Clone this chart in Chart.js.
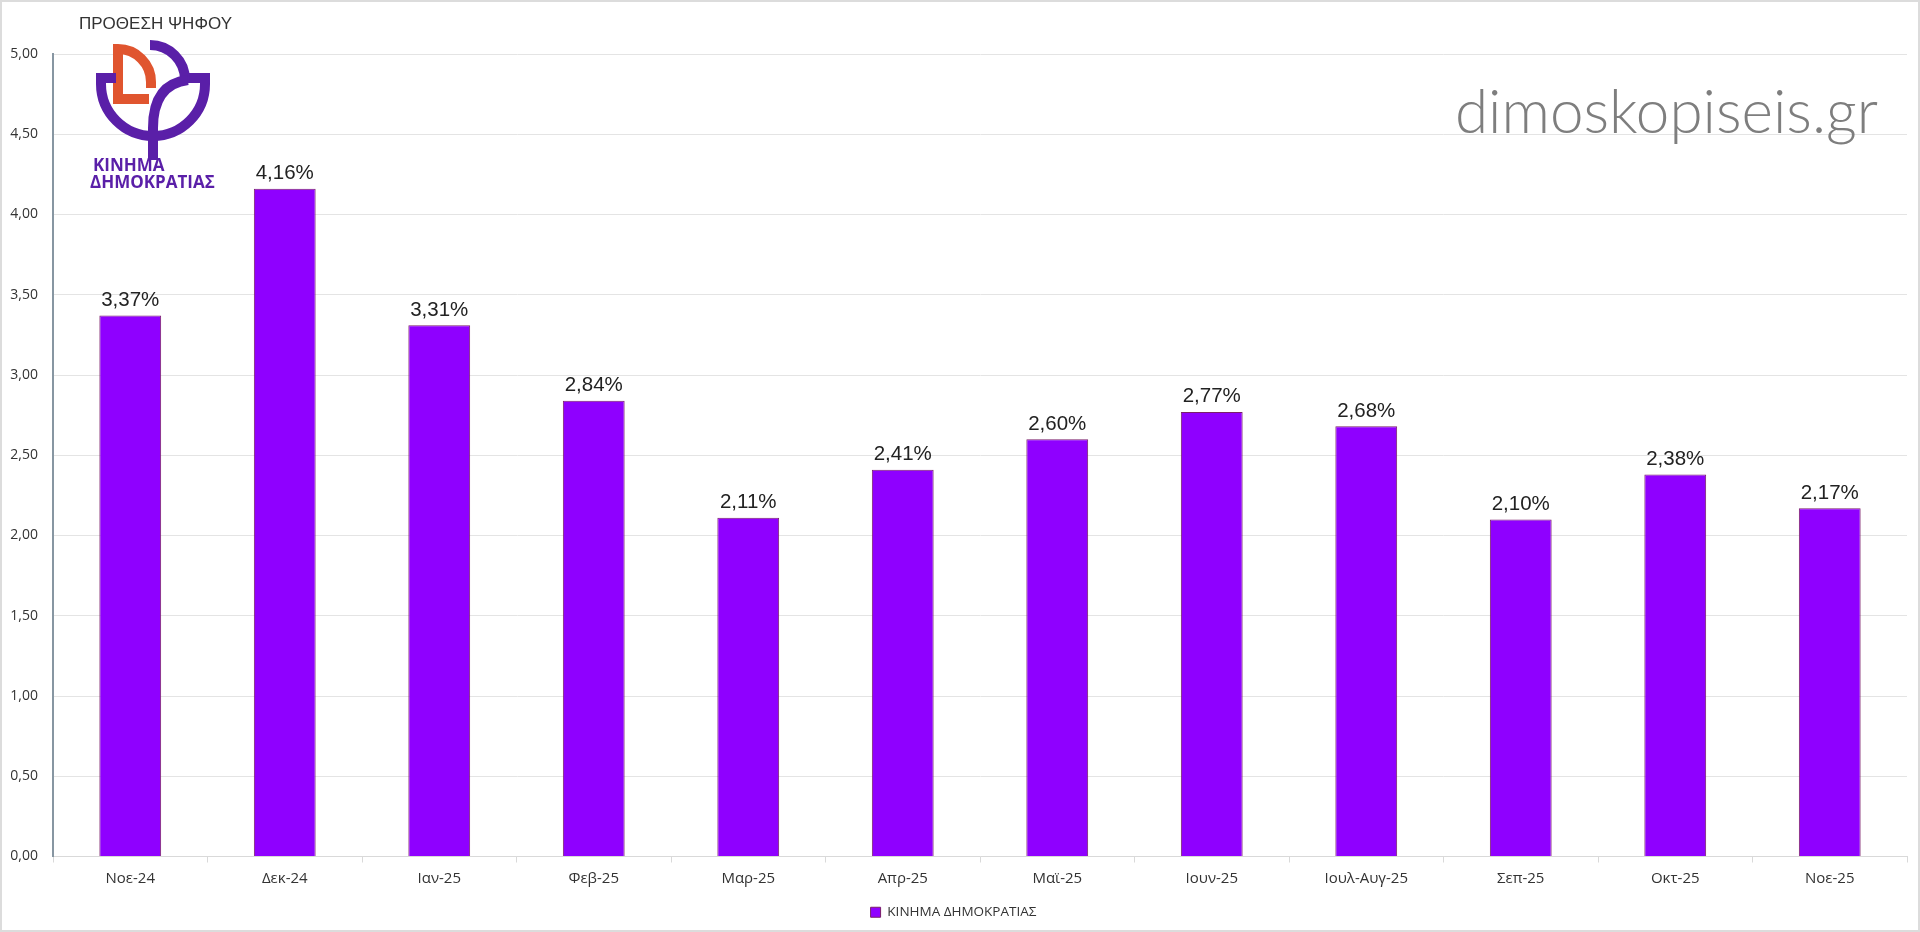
<!DOCTYPE html>
<html lang="el">

<head>
    <meta charset="UTF-8">
    <title>Πρόθεση ψήφου - Κίνημα Δημοκρατίας</title>
    <script src="https://cdn.jsdelivr.net/npm/chart.js"></script>
    <style>
        html, body {
            margin: 0;
            padding: 0;
            background: #ffffff;
        }

        .chart-box {
            position: relative;
            width: 1920px;
            height: 932px;
        }
    </style>
</head>

<body>
    <div class="chart-box">
        <canvas id="voteChart"></canvas>
    </div>

    <script>
        // data
        const months = ['Νοε-24', 'Δεκ-24', 'Ιαν-25', 'Φεβ-25', 'Μαρ-25', 'Απρ-25', 'Μαϊ-25', 'Ιουν-25', 'Ιουλ-Αυγ-25', 'Σεπ-25', 'Οκτ-25', 'Νοε-25'];
        const voteShare = [3.37, 4.16, 3.31, 2.84, 2.11, 2.41, 2.60, 2.77, 2.68, 2.10, 2.38, 2.17];
        const seriesName = 'ΚΙΝΗΜΑ ΔΗΜΟΚΡΑΤΙΑΣ';
        const yTicks = [0, 0.5, 1, 1.5, 2, 2.5, 3, 3.5, 4, 4.5, 5];

        const fmt = v => v.toFixed(2).replace('.', ',');

        // value labels above each bar
        const barLabels = {
            id: 'barLabels',
            afterDatasetsDraw(chart) {
                const ctx = chart.ctx;
                const meta = chart.getDatasetMeta(0);
                ctx.save();
                ctx.font = '20.5px "Liberation Sans", Arial, sans-serif';
                ctx.fillStyle = '#222';
                ctx.textAlign = 'center';
                ctx.textBaseline = 'bottom';
                meta.data.forEach((bar, i) => {
                    ctx.fillText(fmt(voteShare[i]) + '%', bar.x, bar.y - 5);
                });
                ctx.restore();
            }
        };

        // title, party logo, watermark and frame
        const decorations = {
            id: 'decorations',
            afterDraw(chart) {
                const ctx = chart.ctx;
                ctx.save();

                // frame
                ctx.strokeStyle = '#dcdcdc';
                ctx.lineWidth = 2;
                ctx.strokeRect(1, 1, 1918, 930);

                // title
                ctx.fillStyle = '#333';
                ctx.font = '17px "Liberation Sans", Arial, sans-serif';
                ctx.textAlign = 'left';
                ctx.textBaseline = 'middle';
                ctx.fillText('ΠΡΟΘΕΣΗ ΨΗΦΟΥ', 79, 24);

                // logo - orange part
                ctx.lineWidth = 10;
                ctx.lineCap = 'butt';
                ctx.lineJoin = 'miter';
                ctx.strokeStyle = '#e0552f';
                ctx.beginPath();
                ctx.moveTo(151, 88);
                ctx.lineTo(151, 82);
                ctx.arc(118, 82, 33, 0, -Math.PI / 2, true);
                ctx.lineTo(118, 99);
                ctx.lineTo(149, 99);
                ctx.stroke();

                // logo - purple part
                ctx.strokeStyle = '#5a1fa8';
                ctx.beginPath();
                ctx.moveTo(116, 78);
                ctx.lineTo(101, 78);
                ctx.lineTo(101, 84);
                ctx.arc(153, 84, 52, Math.PI, 0, true);
                ctx.lineTo(205, 78);
                ctx.lineTo(184, 78);
                ctx.stroke();

                ctx.beginPath();
                ctx.arc(150, 80, 35, -Math.PI / 2, 0);
                ctx.stroke();

                ctx.beginPath();
                ctx.moveTo(153, 160);
                ctx.lineTo(153, 128);
                ctx.quadraticCurveTo(153, 84, 188, 80);
                ctx.stroke();

                ctx.fillStyle = '#5a1fa8';
                ctx.font = 'bold 17px "Open Sans", "DejaVu Sans", sans-serif';
                ctx.fillText('ΚΙΝΗΜΑ', 93, 166);
                ctx.fillText('ΔΗΜΟΚΡΑΤΙΑΣ', 90, 183);

                // watermark
                const wm = 'dimoskopiseis.gr';
                ctx.fillStyle = '#7e7e7e';
                ctx.font = '300 54px Lato, "Open Sans", sans-serif';
                const w = ctx.measureText(wm).width;
                const size = 54 * 423 / w;
                ctx.font = '300 ' + size.toFixed(1) + 'px Lato, "Open Sans", sans-serif';
                ctx.textAlign = 'right';
                ctx.textBaseline = 'alphabetic';
                ctx.fillText(wm, 1878, 133);

                ctx.restore();
            }
        };

        const ctx = document.getElementById('voteChart').getContext('2d');
        new Chart(ctx, {
            type: 'bar',
            data: {
                labels: months,
                datasets: [{
                    label: seriesName,
                    data: voteShare,
                    backgroundColor: '#8f00ff',
                    borderColor: '#7b1f6a',
                    borderWidth: 1,
                    categoryPercentage: 0.4,
                    barPercentage: 1.0
                }]
            },
            options: {
                responsive: true,
                maintainAspectRatio: false,
                animation: false,
                layout: {
                    padding: { top: 54, right: 13, left: 0, bottom: 3 }
                },
                plugins: {
                    legend: {
                        position: 'bottom',
                        labels: {
                            boxWidth: 10,
                            boxHeight: 10,
                            padding: 8,
                            color: '#333',
                            font: { size: 13.5, family: '"Open Sans", sans-serif' }
                        }
                    },
                    tooltip: { enabled: false }
                },
                scales: {
                    x: {
                        grid: {
                            drawOnChartArea: false,
                            drawTicks: true,
                            tickLength: 6,
                            color: '#d9d9d9'
                        },
                        border: { color: '#d9d9d9', width: 1 },
                        ticks: {
                            color: '#333',
                            padding: 7,
                            font: { size: 15, family: '"Open Sans", sans-serif' }
                        },
                        afterFit(scale) { scale.height = 41; }
                    },
                    y: {
                        min: 0,
                        max: 5,
                        afterBuildTicks(scale) {
                            scale.ticks = yTicks.map(v => ({ value: v }));
                        },
                        grid: {
                            color: '#e4e4e4',
                            drawTicks: false
                        },
                        border: { color: '#8796a2', width: 2 },
                        ticks: {
                            color: '#333',
                            padding: 15,
                            font: { size: 14, family: '"Open Sans", sans-serif' },
                            callback: v => fmt(v)
                        },
                        afterFit(scale) { scale.width = 53; }
                    }
                }
            },
            plugins: [barLabels, decorations]
        });
    </script>
</body>

</html>
